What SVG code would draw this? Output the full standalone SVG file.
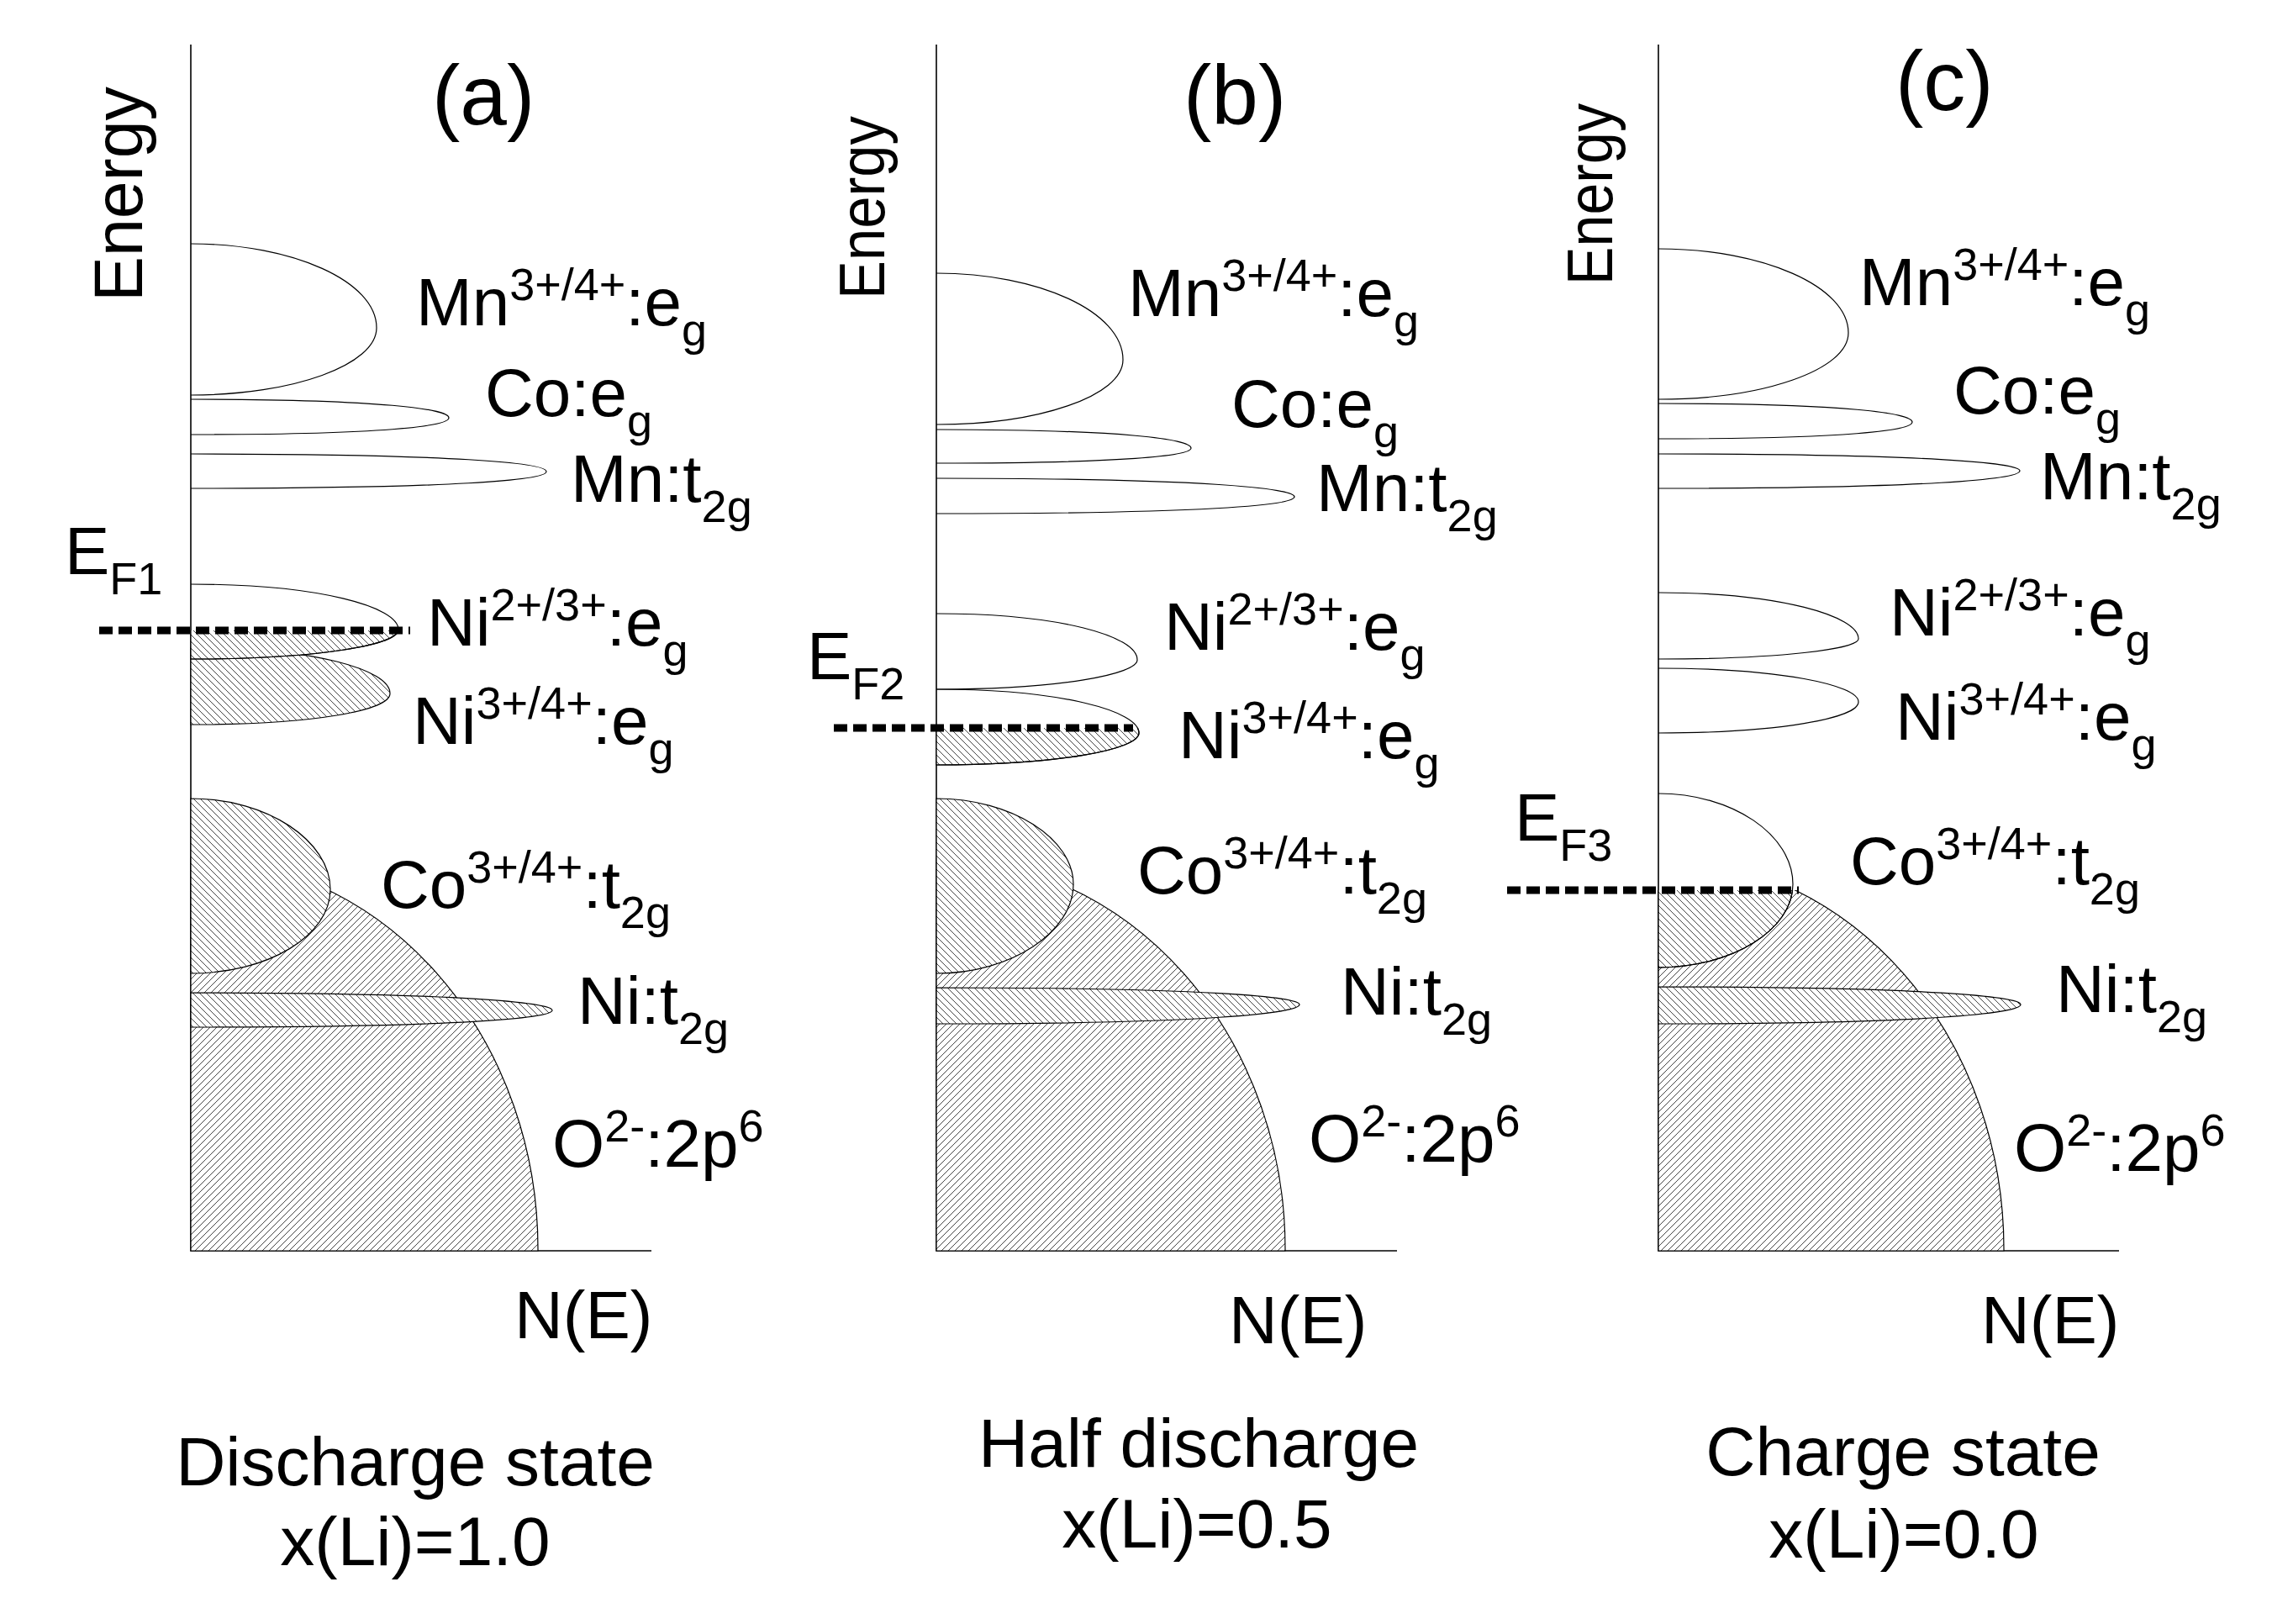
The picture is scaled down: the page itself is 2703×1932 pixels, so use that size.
<svg xmlns="http://www.w3.org/2000/svg" width="2703" height="1932" viewBox="0 0 2703 1932">
<style>
text{font-family:"Liberation Sans",Arial,sans-serif;fill:#000}
.lbl{font-size:80px}
.cap{font-size:82px}
.s{font-size:54px}
.ttl{font-size:100px}
.axis{stroke:#000;stroke-width:1.6;fill:none}
.lobe{stroke:#000;stroke-width:1.2;fill:none}
.hf{fill:url(#hF);stroke:#000;stroke-width:1.2}
.hb{fill:url(#hB);stroke:#000;stroke-width:1.2}
.ef{stroke:#000;stroke-width:9;stroke-dasharray:16 7;fill:none}
.mid{text-anchor:middle}
</style>
<defs>
<pattern id="hF" patternUnits="userSpaceOnUse" width="8" height="8">
<rect width="8" height="8" fill="#fff"/>
<path d="M-2,2 L2,-2 M0,8 L8,0 M6,10 L10,6" stroke="#444" stroke-width="1"/>
</pattern>
<pattern id="hB" patternUnits="userSpaceOnUse" width="8" height="8">
<rect width="8" height="8" fill="#fff"/>
<path d="M-2,6 L2,10 M0,0 L8,8 M6,-2 L10,2" stroke="#444" stroke-width="1"/>
</pattern>
<clipPath id="belowA"><rect x="200" y="750" width="400" height="200"/></clipPath>
<clipPath id="belowB"><rect x="1100" y="866" width="400" height="100"/></clipPath>
<clipPath id="belowC"><rect x="1960" y="1059" width="600" height="440"/></clipPath>
</defs>

<g id="panel-a">
<g id="a-axes">
<path class="axis" d="M227,53 V1488 H775"/>
</g>
<g id="a-bands">
<path class="hf" d="M227,1488 V1021 A413,465 0 0 1 640,1488 Z"/>
<path class="hb" d="M227,950 C319,950 393,1001 393,1058 C393,1113 319,1158 227,1158 Z"/>
<path class="hb" d="M227,1181 C550,1181 657,1193 657,1202 C657,1211 550,1222 227,1222 Z"/>
<path class="lobe" d="M227,290 C349,290 448,335 448,390 C448,434 349,470 227,470"/>
<path class="lobe" d="M227,475 C457,475 534,487 534,497 C534,507 457,517 227,517"/>
<path class="lobe" d="M227,540 C544,540 650,551 650,561 C650,571 544,581 227,581"/>
<path class="hb" d="M227,770 C374,770 464,797 464,825 C464,845 374,862 227,862 Z"/>
<path class="hb" clip-path="url(#belowA)" d="M227,695 C380,695 474,722 474,749 C474,767 380,784 227,784 Z"/>
<path class="lobe" d="M227,695 C380,695 474,722 474,749 C474,767 380,784 227,784"/>
<line class="ef" x1="118" y1="750" x2="488" y2="750"/>
</g>
<g id="a-labels">
<text class="ttl" x="514" y="148">(a)</text>
<text transform="translate(169,359) rotate(-90)" font-size="82" textLength="256" lengthAdjust="spacingAndGlyphs">Energy</text>
<text class="lbl" x="495" y="387">Mn<tspan class="s" dy="-30">3+/4+</tspan><tspan dy="30">:e</tspan><tspan class="s" dy="24">g</tspan></text>
<text class="lbl" x="577" y="495">Co:e<tspan class="s" dy="24">g</tspan></text>
<text class="lbl" x="679" y="597">Mn:t<tspan class="s" dy="24">2g</tspan></text>
<text class="lbl" x="77" y="683">E<tspan class="s" dy="24">F1</tspan></text>
<text class="lbl" x="508" y="768">Ni<tspan class="s" dy="-30">2+/3+</tspan><tspan dy="30">:e</tspan><tspan class="s" dy="24">g</tspan></text>
<text class="lbl" x="491" y="885">Ni<tspan class="s" dy="-30">3+/4+</tspan><tspan dy="30">:e</tspan><tspan class="s" dy="24">g</tspan></text>
<text class="lbl" x="453" y="1080">Co<tspan class="s" dy="-30">3+/4+</tspan><tspan dy="30">:t</tspan><tspan class="s" dy="24">2g</tspan></text>
<text class="lbl" x="687" y="1218">Ni:t<tspan class="s" dy="24">2g</tspan></text>
<text class="lbl" x="657" y="1388">O<tspan class="s" dy="-30">2-</tspan><tspan dy="30">:2p</tspan><tspan class="s" dy="-30">6</tspan></text>
<text class="lbl" x="612" y="1592">N(E)</text>
<text class="cap mid" x="494" y="1767">Discharge state</text>
<text class="cap mid" x="494" y="1862">x(Li)=1.0</text>
</g>
</g>

<g id="panel-b">
<g id="b-axes">
<path class="axis" d="M1114,53 V1488 H1662"/>
</g>
<g id="b-bands">
<path class="hf" d="M1114,1488 V1021 A415,465 0 0 1 1529,1488 Z"/>
<path class="hb" d="M1114,950 C1204,950 1277,998 1277,1052 C1277,1108 1204,1158 1114,1158 Z"/>
<path class="hb" d="M1114,1175 C1436,1175 1546,1186 1546,1195 C1546,1205 1436,1218 1114,1218 Z"/>
<path class="lobe" d="M1114,325 C1236,325 1336,371 1336,428 C1336,471 1236,505 1114,505"/>
<path class="lobe" d="M1114,511 C1341,511 1417,523 1417,533 C1417,542 1341,551 1114,551"/>
<path class="lobe" d="M1114,569 C1433,569 1540,581 1540,591 C1540,601 1433,611 1114,611"/>
<path class="lobe" d="M1114,730 C1262,730 1353,757 1353,785 C1353,802 1262,820 1114,820"/>
<path class="hb" clip-path="url(#belowB)" d="M1114,820 C1263,820 1355,846 1355,872 C1355,891 1263,910 1114,910 Z"/>
<path class="lobe" d="M1114,820 C1263,820 1355,846 1355,872 C1355,891 1263,910 1114,910"/>
<line class="ef" x1="992" y1="866" x2="1348" y2="866"/>
</g>
<g id="b-labels">
<text class="ttl" x="1408" y="148">(b)</text>
<text transform="translate(1052,356) rotate(-90)" font-size="76" textLength="218" lengthAdjust="spacingAndGlyphs">Energy</text>
<text class="lbl" x="1342" y="376">Mn<tspan class="s" dy="-30">3+/4+</tspan><tspan dy="30">:e</tspan><tspan class="s" dy="24">g</tspan></text>
<text class="lbl" x="1465" y="508">Co:e<tspan class="s" dy="24">g</tspan></text>
<text class="lbl" x="1566" y="608">Mn:t<tspan class="s" dy="24">2g</tspan></text>
<text class="lbl" x="1385" y="773">Ni<tspan class="s" dy="-30">2+/3+</tspan><tspan dy="30">:e</tspan><tspan class="s" dy="24">g</tspan></text>
<text class="lbl" x="960" y="808">E<tspan class="s" dy="24">F2</tspan></text>
<text class="lbl" x="1402" y="902">Ni<tspan class="s" dy="-30">3+/4+</tspan><tspan dy="30">:e</tspan><tspan class="s" dy="24">g</tspan></text>
<text class="lbl" x="1353" y="1063">Co<tspan class="s" dy="-30">3+/4+</tspan><tspan dy="30">:t</tspan><tspan class="s" dy="24">2g</tspan></text>
<text class="lbl" x="1595" y="1207">Ni:t<tspan class="s" dy="24">2g</tspan></text>
<text class="lbl" x="1557" y="1382">O<tspan class="s" dy="-30">2-</tspan><tspan dy="30">:2p</tspan><tspan class="s" dy="-30">6</tspan></text>
<text class="lbl" x="1462" y="1598">N(E)</text>
<text class="cap mid" x="1426" y="1745">Half discharge</text>
<text class="cap mid" x="1424" y="1841">x(Li)=0.5</text>
</g>
</g>

<g id="panel-c">
<g id="c-axes">
<path class="axis" d="M1973,53 V1488 H2521"/>
</g>
<g id="c-bands">
<g clip-path="url(#belowC)">
<path class="hf" d="M1973,1488 V1021 A411,465 0 0 1 2384,1488 Z"/>
<path class="hb" d="M1973,944 C2061,944 2133,993 2133,1052 C2133,1106 2061,1151 1973,1151 Z"/>
</g>
<path class="lobe" d="M1973,944 C2061,944 2133,993 2133,1052 C2133,1106 2061,1151 1973,1151"/>
<path class="hb" d="M1973,1174 C2296,1174 2404,1186 2404,1195 C2404,1205 2296,1218 1973,1218 Z"/>
<path class="lobe" d="M1973,296 C2098,296 2199,341 2199,396 C2199,440 2098,475 1973,475"/>
<path class="lobe" d="M1973,480 C2200,480 2275,492 2275,502 C2275,512 2200,522 1973,522"/>
<path class="lobe" d="M1973,540 C2296,540 2403,551 2403,560 C2403,570 2296,581 1973,581"/>
<path class="lobe" d="M1973,705 C2118,705 2211,733 2211,760 C2211,772 2118,784 1973,784"/>
<path class="lobe" d="M1973,795 C2118,795 2211,815 2211,835 C2211,854 2118,872 1973,872"/>
<line class="ef" x1="1793" y1="1059" x2="2140" y2="1059"/>
</g>
<g id="c-labels">
<text class="ttl" x="2255" y="131">(c)</text>
<text transform="translate(1918,339) rotate(-90)" font-size="76" textLength="216" lengthAdjust="spacingAndGlyphs">Energy</text>
<text class="lbl" x="2212" y="363">Mn<tspan class="s" dy="-30">3+/4+</tspan><tspan dy="30">:e</tspan><tspan class="s" dy="24">g</tspan></text>
<text class="lbl" x="2324" y="492">Co:e<tspan class="s" dy="24">g</tspan></text>
<text class="lbl" x="2427" y="594">Mn:t<tspan class="s" dy="24">2g</tspan></text>
<text class="lbl" x="2248" y="756">Ni<tspan class="s" dy="-30">2+/3+</tspan><tspan dy="30">:e</tspan><tspan class="s" dy="24">g</tspan></text>
<text class="lbl" x="2255" y="880">Ni<tspan class="s" dy="-30">3+/4+</tspan><tspan dy="30">:e</tspan><tspan class="s" dy="24">g</tspan></text>
<text class="lbl" x="1802" y="1000">E<tspan class="s" dy="24">F3</tspan></text>
<text class="lbl" x="2201" y="1052">Co<tspan class="s" dy="-30">3+/4+</tspan><tspan dy="30">:t</tspan><tspan class="s" dy="24">2g</tspan></text>
<text class="lbl" x="2446" y="1204">Ni:t<tspan class="s" dy="24">2g</tspan></text>
<text class="lbl" x="2396" y="1393">O<tspan class="s" dy="-30">2-</tspan><tspan dy="30">:2p</tspan><tspan class="s" dy="-30">6</tspan></text>
<text class="lbl" x="2357" y="1598">N(E)</text>
<text class="cap mid" x="2264" y="1755">Charge state</text>
<text class="cap mid" x="2265" y="1853">x(Li)=0.0</text>
</g>
</g>
</svg>
